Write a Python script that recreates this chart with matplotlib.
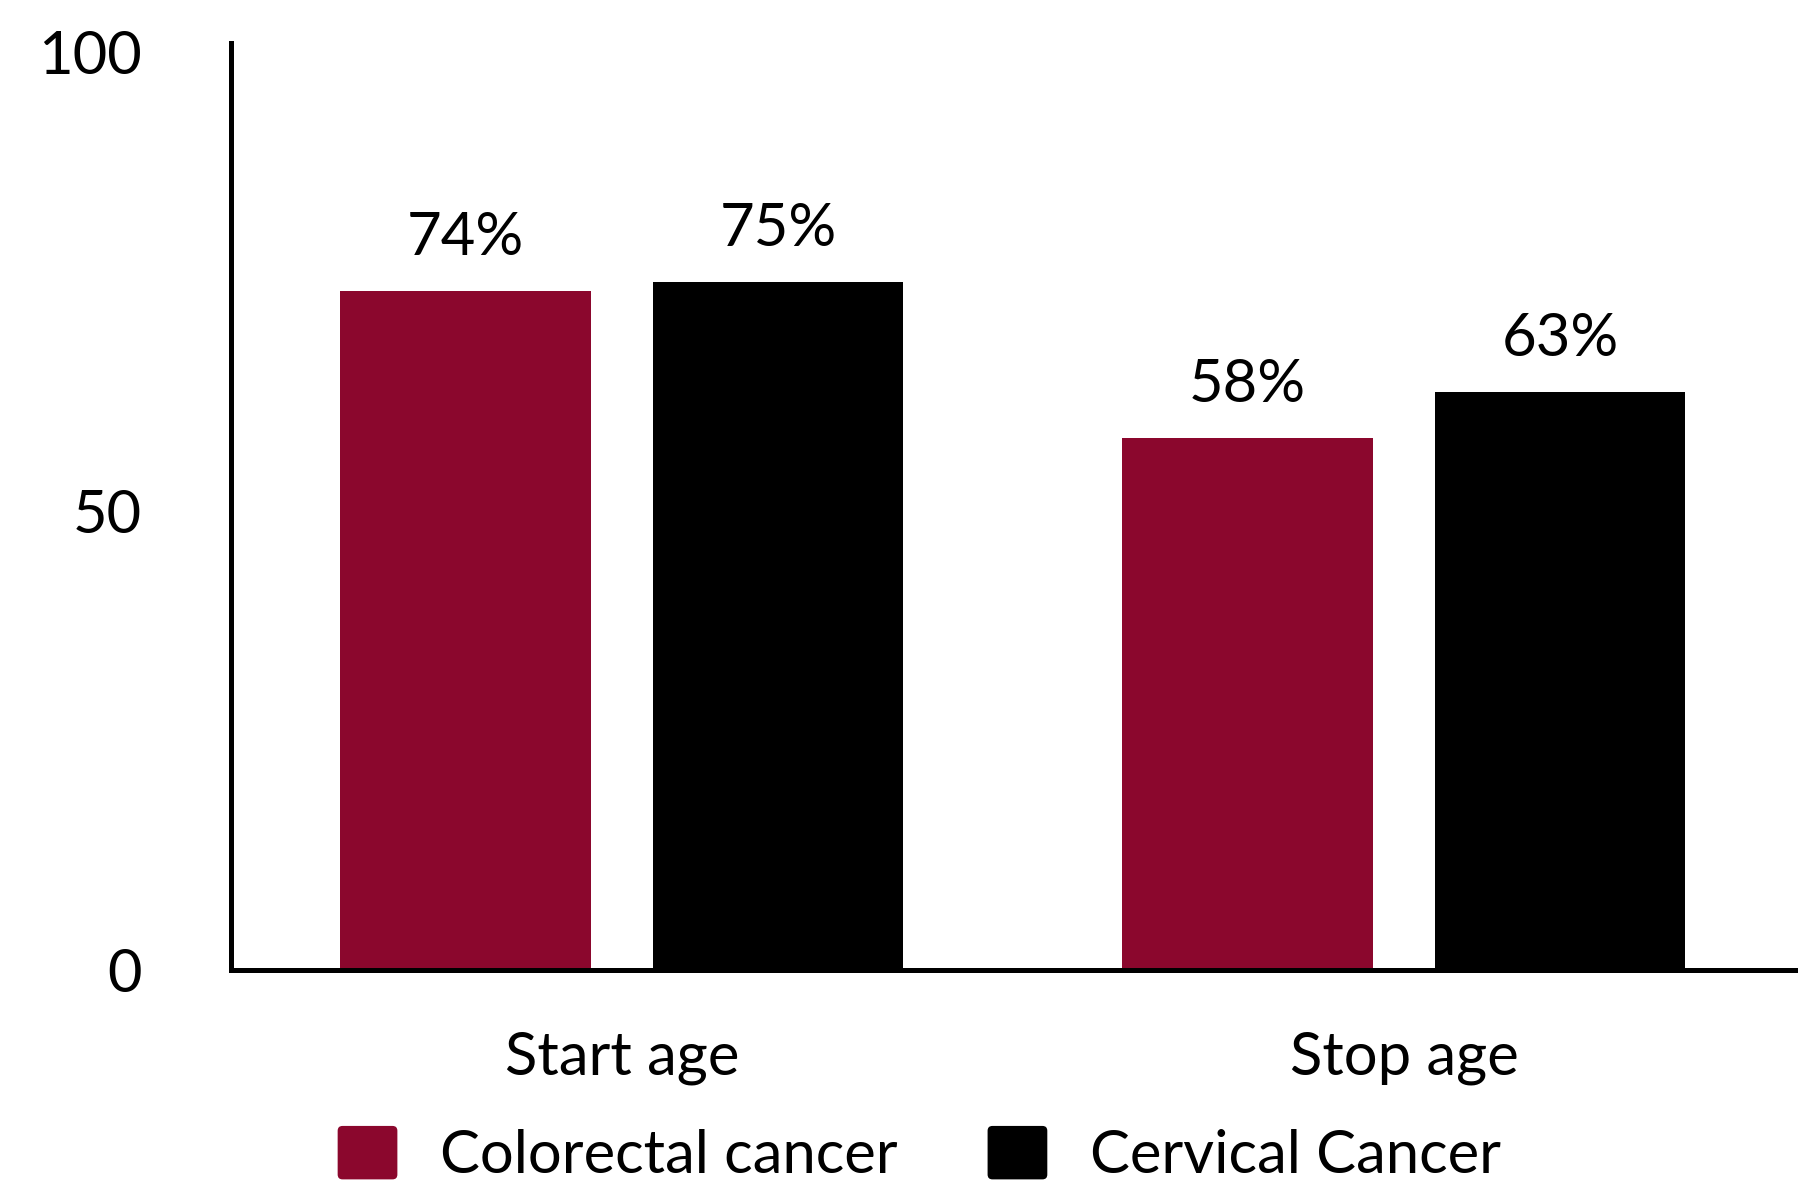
from matplotlib import pyplot as plt
from matplotlib.patches import FancyBboxPatch
from matplotlib.legend_handler import HandlerPatch
from matplotlib.container import BarContainer
import numpy as np

plt.rcParams['font.family'] = ['Lato', 'DejaVu Sans']

# data
categories = ['Start age', 'Stop age']
series_names = ['Colorectal cancer', 'Cervical Cancer']
colorectal = [74, 58]
cervical = [75, 63]
colors = ['#8B072D', '#000000']

fsize = 43


#Rounded square legend markers
class RoundHandler(HandlerPatch):
    def create_artists(self, legend, orig_handle, xdescent, ydescent, width, height, fontsize, trans):
        p = FancyBboxPatch((-xdescent, -ydescent), width, height,
                           boxstyle='round,pad=0,rounding_size=3.5',
                           facecolor=orig_handle[0].get_facecolor(), edgecolor='none')
        p.set_transform(trans)
        return [p]


fig = plt.figure(figsize=(18.1, 11.89), dpi=100)
ax = fig.add_axes([0.1276, 0.1842, 0.8641, 0.7796])

x = np.arange(len(categories))
width = 0.32
bars1 = ax.bar(x - 0.2, colorectal, width, color=colors[0], label=series_names[0])
bars2 = ax.bar(x + 0.2, cervical, width, color=colors[1], label=series_names[1])

for bars in (bars1, bars2):
    for bar in bars:
        yval = bar.get_height()
        ax.annotate('{}%'.format(int(yval)), (bar.get_x() + bar.get_width() / 2, yval),
                    xytext=(0, 26), textcoords='offset points', ha='center', va='baseline',
                    fontsize=fsize)

ax.set_xlim(-0.5, 1.5)
ax.set_ylim(0, 101)
ax.set_yticks([0, 50, 100])
ax.set_xticks(x)
ax.set_xticklabels(categories)
ax.tick_params(axis='y', length=0, pad=64, labelsize=fsize)
ax.tick_params(axis='x', length=0, pad=44, labelsize=fsize)

for s in ['top', 'right']:
    ax.spines[s].set_visible(False)
ax.spines['left'].set_linewidth(3.6)
ax.spines['bottom'].set_linewidth(3.6)

fig.legend(handles=[bars1, bars2], labels=series_names, loc='center',
           bbox_to_anchor=(0.508, 0.029), ncol=2, frameon=False, fontsize=fsize,
           handlelength=1.0, handleheight=1.0, handletextpad=0.72, columnspacing=1.5,
           handler_map={BarContainer: RoundHandler()})

fig.savefig('out.png', dpi=100)
